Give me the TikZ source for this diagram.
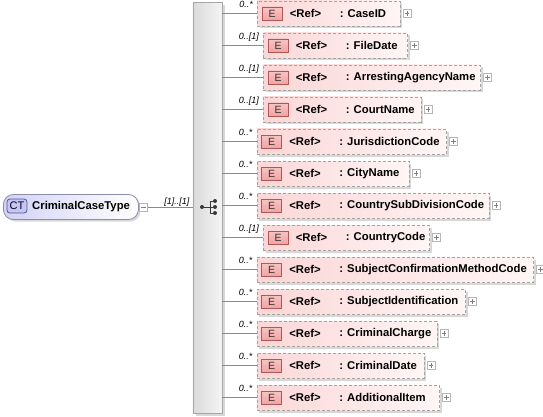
\documentclass[tikz,border=0pt]{standalone}
\usepackage{fontspec}
\setmainfont{Liberation Sans}
\usetikzlibrary{shadows,calc}
\definecolor{linegray}{HTML}{8A8A8A}
\definecolor{boxborder}{HTML}{A4A4A4}
\definecolor{elpinkL}{HTML}{FBD6D6}
\definecolor{elpinkR}{HTML}{FFF6F6}
\definecolor{ebfill}{HTML}{F2A2A2}
\definecolor{ebtop}{HTML}{F8C4C4}
\definecolor{ebborder}{HTML}{B05858}
\definecolor{ctL}{HTML}{D2D2F6}
\definecolor{ctR}{HTML}{FFFFFF}
\definecolor{ctborder}{HTML}{8C8CAE}
\definecolor{ctbfill}{HTML}{C6C6F0}
\definecolor{ctbborder}{HTML}{4C5A9C}
\definecolor{barL}{HTML}{DADADA}
\definecolor{barR}{HTML}{F4F4F4}
\definecolor{barborder}{HTML}{A6A6A6}
\definecolor{shadowgray}{HTML}{D8D8D8}
\definecolor{icondark}{HTML}{3A3A3A}
\newcommand\elrow[6]{%
  \pgfmathsetmacro\rowy{13.5+32*#2}
  \node[elembox, minimum width=#4] (#1) at (#3,\rowy) {};
  \node[ebadge] (#1e) at ([xshift=15]#1.west) {E};
  \node[reftext] (#1r) at ([xshift=32.6]#1.west) {<Ref>};
  \node[nametext] (#1n) at ([xshift=82.6]#1.west) {: #6};
  \node[plusbox] (#1p) at ([xshift=6.5]#1.east) {};
  \draw[plusline] ([yshift=-2]#1p.north) -- ([yshift=2]#1p.south)
                  ([xshift=2]#1p.west) -- ([xshift=-2]#1p.east);
  \draw[conn] (bar.east |- #1.west) -- (#1.west);
  \node[mult] (#1m) at ([xshift=-4,yshift=6]#1.west) {#5};
}
\begin{document}
\begin{tikzpicture}[x=1pt,y=-1pt,
  conn/.style={draw=linegray, line width=0.7pt},
  elembox/.style={draw=boxborder, dash pattern=on 3pt off 2pt, line width=0.8pt,
    left color=elpinkL, right color=elpinkR, minimum height=25, anchor=west,
    inner sep=0pt, drop shadow={shadow xshift=2.5pt, shadow yshift=-2.5pt, fill=shadowgray, opacity=1}},
  ebadge/.style={draw=ebborder, line width=0.7pt, top color=ebtop, bottom color=ebfill,
    minimum width=20, minimum height=13, inner sep=0pt,
    font=\fontsize{10.5}{12}\selectfont, text=black!80},
  reftext/.style={anchor=west, inner sep=0pt, font=\fontsize{11.3}{13}\selectfont\bfseries},
  nametext/.style={anchor=west, inner sep=0pt, font=\fontsize{11.3}{13}\selectfont\bfseries},
  plusbox/.style={draw=boxborder!80, fill=white, line width=0.6pt, minimum size=8, inner sep=0pt},
  plusline/.style={draw=gray, line width=0.6pt},
  mult/.style={anchor=base east, inner sep=0pt, font=\fontsize{9}{10}\selectfont\itshape},
  ctbox/.style={draw=ctborder, line width=0.8pt, rounded corners=10pt, left color=ctL, right color=ctR,
    minimum width=135, minimum height=25, anchor=west, inner sep=0pt,
    drop shadow={shadow xshift=2pt, shadow yshift=-2pt, fill=shadowgray, opacity=1}},
  ctbadge/.style={draw=ctbborder, line width=0.8pt, rounded corners=3pt, fill=ctbfill,
    minimum width=20, minimum height=14, inner sep=0pt, font=\fontsize{11}{12}\selectfont, text=black!80!blue},
  barstyle/.style={draw=barborder, line width=0.7pt, left color=barL, right color=barR,
    minimum width=29, minimum height=411, anchor=north west, inner sep=0pt,
    drop shadow={shadow xshift=3pt, shadow yshift=-3pt, fill=shadowgray, opacity=1}}
]
\useasboundingbox (0,0) rectangle (543,417);
% sequence bar
\node[barstyle] (bar) at (192.5,2) {};
% sequence icon
\draw[icondark, line width=0.9pt] (202,207) -- (210,207) (210,201) -- (210,213)
  (210,201) -- (215,201) (210,207) -- (215,207) (210,213) -- (215,213);
\foreach \yy in {201,207,213} \fill[icondark] (215,\yy) circle (2);
\fill[icondark] (202,207) circle (2);
% complex type node
\node[ctbox] (ct) at (3,207) {};
\node[ctbadge] (ctb) at (17,206) {CT};
\node[nametext] (ctn) at (32,207) {CriminalCaseType};
\node[plusbox] (ctm) at (143.5,207.5) {};
\draw[plusline] ([xshift=2]ctm.west) -- ([xshift=-2]ctm.east);
\draw[conn] (ctm.east) -- (bar.west |- ctm.east);
\node[mult] (ctmult) at (189.5,204.5) {[1]..[1]};
% element rows
\elrow{r0}{0}{257}{142.5}{0..*}{CaseID}
\elrow{r1}{1}{263}{144}{0..[1]}{FileDate}
\elrow{r2}{2}{263}{217}{0..[1]}{ArrestingAgencyName}
\elrow{r3}{3}{263}{157.5}{0..[1]}{CourtName}
\elrow{r4}{4}{256.5}{189.5}{0..*}{JurisdictionCode}
\elrow{r5}{5}{256.5}{152}{0..*}{CityName}
\elrow{r6}{6}{256.5}{232}{0..*}{CountrySubDivisionCode}
\elrow{r7}{7}{263}{166}{0..[1]}{CountryCode}
\elrow{r8}{8}{256.5}{276.5}{0..*}{SubjectConfirmationMethodCode}
\elrow{r9}{9}{256.5}{208.5}{0..*}{SubjectIdentification}
\elrow{r10}{10}{256.5}{180}{0..*}{CriminalCharge}
\elrow{r11}{11}{256.5}{167}{0..*}{CriminalDate}
\elrow{r12}{12}{256.5}{182.5}{0..*}{AdditionalItem}
\end{tikzpicture}
\end{document}
